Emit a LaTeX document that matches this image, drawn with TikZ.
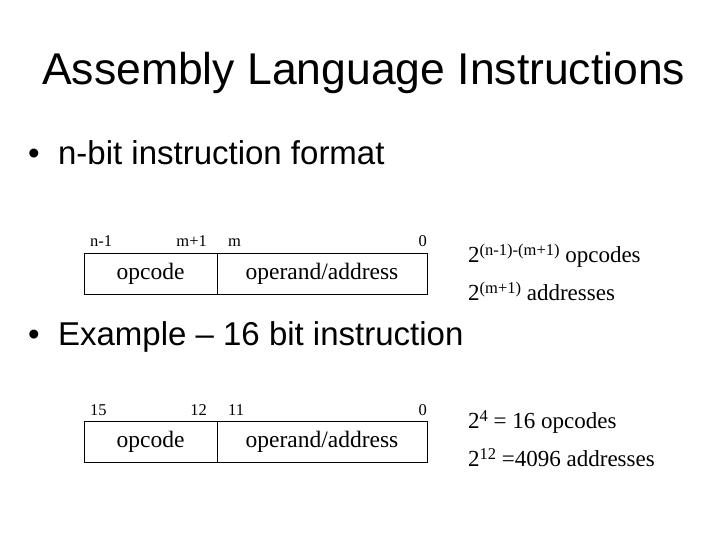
\documentclass[tikz,border=0pt]{standalone}
\usepackage{fontspec}
\setmainfont{Liberation Serif}
\newfontfamily\arialfont{Liberation Sans}
\begin{document}
\begin{tikzpicture}[x=1pt,y=-1pt]

\tikzstyle{field} = [draw, thick, rectangle, minimum height=41pt,
	inner sep=0pt, font=\fontsize{23.5}{26}\selectfont];
\tikzstyle{bit} = [inner sep=0pt, anchor=base west, font=\fontsize{16.5}{18}\selectfont];
\tikzstyle{note} = [inner sep=0pt, anchor=base west, font=\fontsize{23}{26}\selectfont];
\tikzstyle{bullet} = [inner sep=0pt, anchor=base west, font=\arialfont\fontsize{33}{36}\selectfont];
\useasboundingbox (0,0) rectangle (720,540);

\node[inner sep=0pt, anchor=base west, font=\arialfont\fontsize{44.5}{50}\selectfont] (title) at (42,85) {Assembly Language Instructions};
\node[bullet] (b1) at (28,165) {\textbullet\ \ n-bit instruction format};

% general format
\node[field, minimum width=133pt] (op1) at (150.5,273.5) {opcode};
\node[field, minimum width=210pt] (ad1) at (322,273.5) {operand/address};
\node[bit] (n1) at (90,247) {n-1};
\node[bit, anchor=base east] (mp1) at (207,247) {m+1};
\node[bit] (m1) at (228,247) {m};
\node[bit, anchor=base east] (z1) at (427,247) {0};
\node[note] (r1) at (468,262) {2\raisebox{7pt}{\fontsize{16.5}{18}\selectfont (n-1)-(m+1)} opcodes};
\node[note] (r2) at (468,300) {2\raisebox{7pt}{\fontsize{16.5}{18}\selectfont (m+1)} addresses};

\node[bullet] (b2) at (28,345) {\textbullet\ \ Example – 16 bit instruction};

% 16 bit example
\node[field, minimum width=133pt] (op2) at (150.5,441.5) {opcode};
\node[field, minimum width=210pt] (ad2) at (322,441.5) {operand/address};
\node[bit] (n2) at (90,415) {15};
\node[bit, anchor=base east] (mp2) at (207,415) {12};
\node[bit] (m2) at (228,415) {11};
\node[bit, anchor=base east] (z2) at (427,415) {0};
\node[note] (r3) at (468,428) {2\raisebox{7pt}{\fontsize{16.5}{18}\selectfont 4} = 16 opcodes};
\node[note] (r4) at (468,466) {2\raisebox{7pt}{\fontsize{16.5}{18}\selectfont 12} =4096 addresses};

\end{tikzpicture}
\end{document}
